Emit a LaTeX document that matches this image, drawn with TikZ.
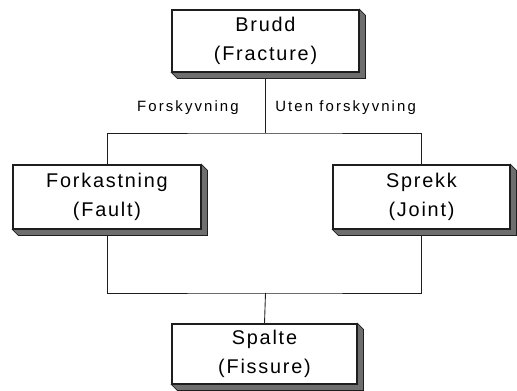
\documentclass[tikz,border=0pt]{standalone}
\usepackage{fontspec}
\usepackage{xcolor}
\usepackage{tikz}
\usetikzlibrary{calc}
\newfontfamily\boxfont[LetterSpace=9]{Liberation Sans}
\newfontfamily\lblfont[LetterSpace=14]{Liberation Sans}
\definecolor{cink}{HTML}{1E1E1E}
\definecolor{cshade}{HTML}{6E6E6E}
\tikzset{
  bx/.style={draw=cink,line width=0.6pt,fill=white,align=center,inner sep=0pt,
    minimum height=1.24cm,font=\boxfont\fontsize{11.3}{16.5}\selectfont},
  ln/.style={draw=cink,line width=0.5pt},
  lbl/.style={font=\lblfont\fontsize{8.5}{10}\selectfont,inner sep=0pt}}

\begin{document}
\begin{tikzpicture}[x=0.02cm,y=-0.02cm]
\useasboundingbox (0,0) rectangle (517,391);

% ================= boxes =================
\node[bx,minimum width=3.74cm] (brudd) at (265.5,41) {Brudd\\(Fracture)};
\node[bx,minimum width=3.76cm,minimum height=1.28cm] (fault) at (107,197) {Forkastning\\(Fault)};
\node[bx,minimum width=3.54cm,minimum height=1.28cm] (joint) at (421.5,197) {Sprekk\\(Joint)};
\node[bx,minimum width=3.7cm,minimum height=1.2cm] (fissure) at (264.5,354) {Spalte\\(Fissure)};

% ================= connectors =================
\coordinate (split) at (265.5,133);
\coordinate (merge) at (265.5,293);
\draw[ln] (brudd.south) -- (split);
\draw[ln] (fault.north) |- (split) -| (joint.north);
\draw[ln] (fault.south) |- (merge) -| (joint.south);
\draw[ln] (merge) -- (fissure.north);
\node[lbl,anchor=east] (shift) at (239,108) {Forskyvning};
\node[lbl,anchor=west] (noshift) at (275,108) {Uten forskyvning};

% ================= shadows =================
\foreach \b in {brudd,fault,joint,fissure}
  \filldraw[fill=cshade,draw=cink,line width=0.4pt]
    (\b.south west) -- ++(6,6) -- ($(\b.south east)+(6,6)$) -- ($(\b.north east)+(6,6)$)
    -- (\b.north east) -- (\b.south east) -- cycle;

\end{tikzpicture}
\end{document}
